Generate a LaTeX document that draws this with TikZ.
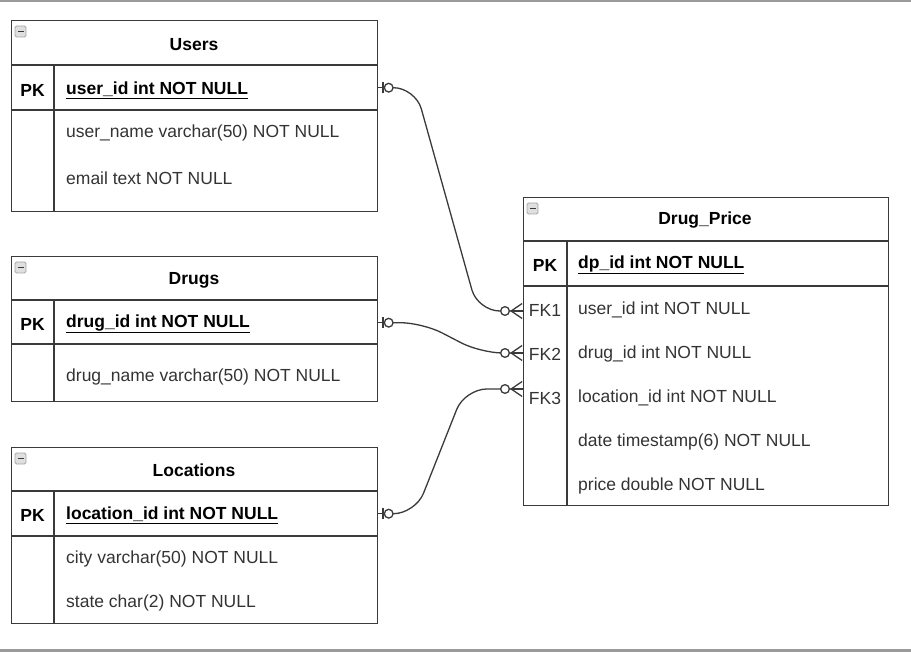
\documentclass[tikz,border=0pt]{standalone}
\usepackage{fontspec}
\setmainfont{Liberation Sans}
\usepackage{tikz}
\usetikzlibrary{arrows.meta,positioning,calc}
\usepackage{xcolor}

\definecolor{frame}{HTML}{3A3A3A}
\definecolor{txt}{HTML}{333333}
\definecolor{rule}{HTML}{9A9A9A}

\tikzset{
  tbl/.style={draw=frame, line width=1.3pt, anchor=north west, minimum width=366pt, inner sep=0pt},
  pkrow/.style={anchor=north west, minimum width=366pt, minimum height=45pt, inner sep=0pt},
  ttl/.style={font=\fontsize{17.5}{21}\selectfont\bfseries, text=black, yshift=-1.5pt},
  fld/.style={font=\fontsize{17.5}{21}\selectfont, text=txt, anchor=west, inner sep=0pt, yshift=-2pt},
  keyl/.style={font=\fontsize{17.5}{21}\selectfont, text=txt, minimum width=44pt, inner sep=0pt, yshift=-2pt},
  pkl/.style={keyl, font=\fontsize{17.5}{21}\selectfont\bfseries, text=black},
  pkf/.style={fld, font=\fontsize{17.5}{21}\selectfont\bfseries, text=black},
  sep/.style={draw=frame, line width=1.3pt},
  pksep/.style={draw=frame, line width=2.4pt},
  icon/.style={draw=gray!70, fill=gray!25, line width=0.9pt, rounded corners=1.5pt},
  rel/.style={draw=frame, line width=1.3pt, rounded corners=22pt, shorten <=5pt,
    {Bar[width=11pt,line width=1.3pt] Circle[open,length=10pt,width=10pt,line width=1.3pt,fill=white]}-{Circle[open,length=10pt,width=10pt,line width=1.3pt,fill=white] Straight Barb[reversed,length=11pt,width=15pt,line width=1.3pt]}},
  prong/.style={draw=frame, line width=1.3pt}
}

\begin{document}
\begin{tikzpicture}[x=1pt,y=-1pt]
  \useasboundingbox (0,0) rectangle (911,652);
  % page rules
  \draw[rule, line width=2pt] (0,1) -- (911,1);
  \draw[rule, line width=3pt] (0,650) -- (911,650);

  % Users
  \node[tbl, minimum height=191pt] (users) at (11,20) {};
  \draw[icon] (15,26) rectangle (26,37);
  \draw[frame, line width=1.1pt] (17.5,31.5) -- (23.5,31.5);
  \node[ttl] (usersT) at (194,43) {Users};
  \draw[sep] (11,65) -- (377,65);
  \node[pkrow] (usersPK) at (11,65) {};
  \node[pkl] (usersPKl) at (32.5,88) {PK};
  \node[pkf] (usersId) at (66,88) {\underline{user\_id int NOT NULL}};
  \draw[pksep] (11,110) -- (377,110);
  \draw[sep] (54,65) -- (54,211);
  \node[fld] (usersName) at (66,131) {user\_name varchar(50) NOT NULL};
  \node[fld] (usersMail) at (66,176) {email text NOT NULL};

  % Drugs
  \node[tbl, minimum height=145pt] (drugs) at (11,256) {};
  \draw[icon] (15,262) rectangle (26,273);
  \draw[frame, line width=1.1pt] (17.5,267.5) -- (23.5,267.5);
  \node[ttl] (drugsT) at (194,279) {Drugs};
  \draw[sep] (11,300) -- (377,300);
  \node[pkrow] (drugsPK) at (11,300) {};
  \node[pkl] (drugsPKl) at (32.5,322) {PK};
  \node[pkf] (drugsId) at (66,322) {\underline{drug\_id int NOT NULL}};
  \draw[pksep] (11,344) -- (377,344);
  \draw[sep] (54,300) -- (54,401);
  \node[fld] (drugsName) at (66,375) {drug\_name varchar(50) NOT NULL};

  % Locations
  \node[tbl, minimum height=176pt] (locs) at (11,447) {};
  \draw[icon] (15,453) rectangle (26,464);
  \draw[frame, line width=1.1pt] (17.5,458.5) -- (23.5,458.5);
  \node[ttl] (locsT) at (194,469) {Locations};
  \draw[sep] (11,491) -- (377,491);
  \node[pkrow] (locsPK) at (11,491) {};
  \node[pkl] (locsPKl) at (32.5,513) {PK};
  \node[pkf] (locsId) at (66,513) {\underline{location\_id int NOT NULL}};
  \draw[pksep] (11,536) -- (377,536);
  \draw[sep] (54,491) -- (54,623);
  \node[fld] (locsCity) at (66,557) {city varchar(50) NOT NULL};
  \node[fld] (locsState) at (66,601) {state char(2) NOT NULL};

  % Drug_Price
  \node[tbl, minimum width=365pt, minimum height=308pt] (dp) at (523,197) {};
  \draw[icon] (527,203) rectangle (538,214);
  \draw[frame, line width=1.1pt] (529.5,208.5) -- (535.5,208.5);
  \node[ttl] (dpT) at (705,219) {Drug\_Price};
  \draw[sep] (523,241) -- (888,241);
  \node[pkl] (dpPKl) at (545,263) {PK};
  \node[pkf] (dpId) at (578,263) {\underline{dp\_id int NOT NULL}};
  \draw[pksep] (523,286) -- (888,286);
  \draw[sep] (567,241) -- (567,505);
  \node[keyl] (fk1) at (545,308) {FK1};
  \node[keyl] (fk2) at (545,352) {FK2};
  \node[keyl] (fk3) at (545,396) {FK3};
  \node[fld] (dpUser) at (578,308) {user\_id int NOT NULL};
  \node[fld] (dpDrug) at (578,352) {drug\_id int NOT NULL};
  \node[fld] (dpLoc) at (578,396) {location\_id int NOT NULL};
  \node[fld] (dpDate) at (578,440) {date timestamp(6) NOT NULL};
  \node[fld] (dpPrice) at (578,484) {price double NOT NULL};

  % relations
  \coordinate (e1) at ([yshift=-1pt]fk1.west);
  \coordinate (e2) at ([yshift=1pt]fk2.west);
  \coordinate (e3) at ([yshift=9pt]fk3.west);
  \draw[rel] (usersPK.east) -- ++(38,0) -- ($(e1)+(-45,0)$) -- (e1);
  \draw[rel] (drugsPK.east) -- ++(45,0) -- ($(e2)+(-42,0)$) -- (e2);
  \draw[rel] (locsPK.east) -- ++(38,0) -- ($(e3)+(-58,0)$) -- (e3);
  \draw[prong] (usersPK.east) -- ++(6,0);
  \draw[prong] (drugsPK.east) -- ++(6,0);
  \draw[prong] (locsPK.east) -- ++(6,0);
  \draw[prong] ($(e1)+(-12,0)$) -- (e1);
  \draw[prong] ($(e2)+(-12,0)$) -- (e2);
  \draw[prong] ($(e3)+(-12,0)$) -- (e3);
\end{tikzpicture}
\end{document}
